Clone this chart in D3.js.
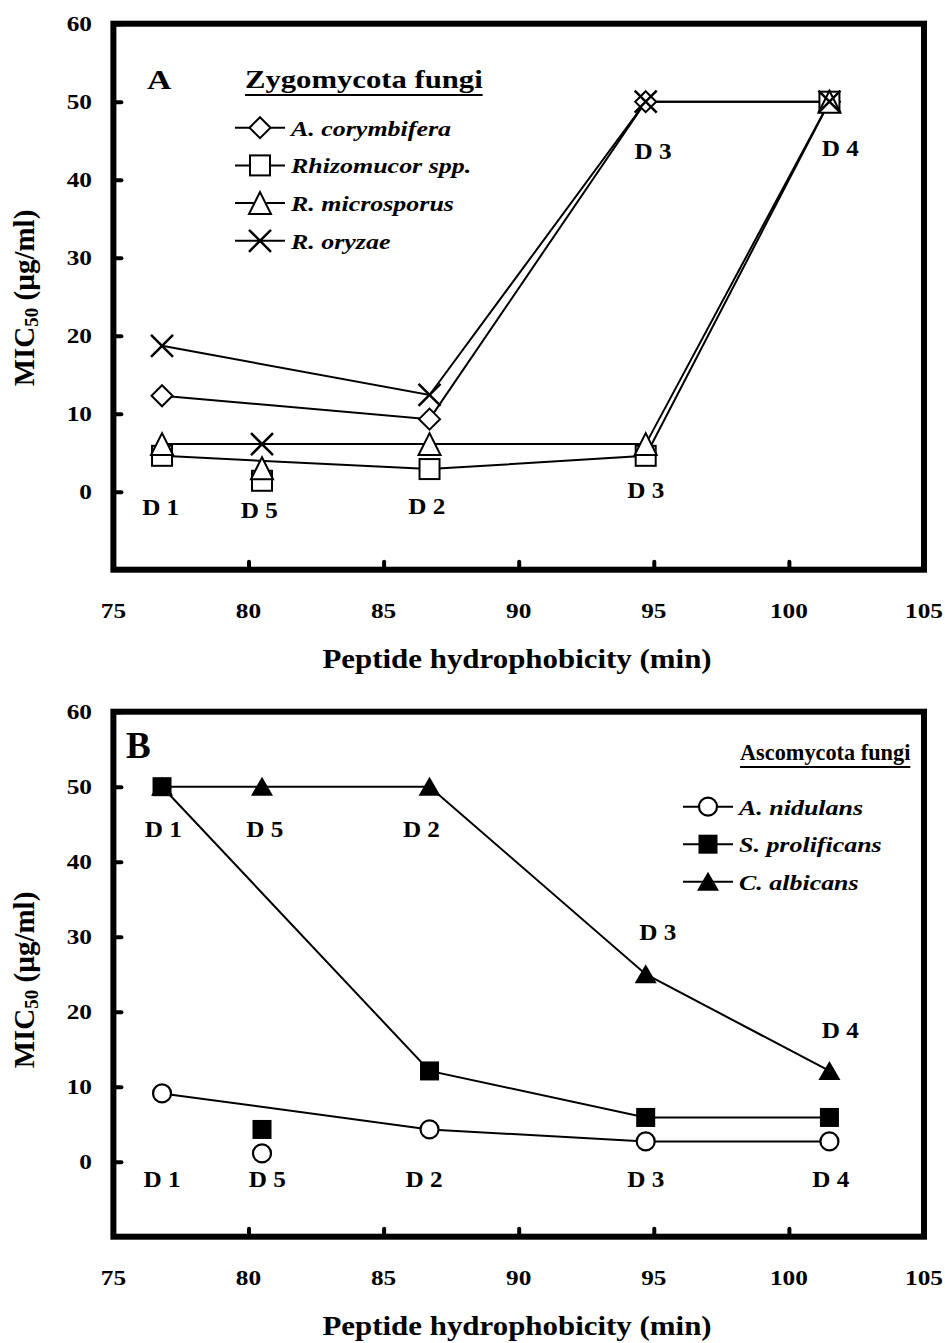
<!DOCTYPE html>
<html><head><meta charset="utf-8">
<script src="https://cdn.jsdelivr.net/npm/d3@7"></script>
<style>
body{margin:0;background:#fff}
text{font-family:"Liberation Serif","Times New Roman",serif;font-weight:bold;fill:#000}
</style>
</head><body>
<svg id="chart" width="945" height="1343"></svg>
<script>
// ---------- data ----------
const peptides = ["D 1", "D 5", "D 2", "D 3", "D 4"];
const hydrophobicity = [76.8, 80.5, 86.7, 94.7, 101.5];
const xTicks = [75, 80, 85, 90, 95, 100, 105];
const yTicks = [0, 10, 20, 30, 40, 50, 60];
const xTitle = "Peptide hydrophobicity (min)";

// Panel A – Zygomycota
const zygoTitle = "Zygomycota fungi";
const zygoNames = ["A. corymbifera", "Rhizomucor spp.", "R. microsporus", "R. oryzae"];
const aCorymbifera = [12.3, null, 9.3, 50, 50];
const rhizomucor   = [4.6, 1.4, 2.9, 4.6, 50];
const rMicrosporus = [6.1, 3.0, 6.1, 6.1, 50];
const rOryzae      = [18.7, 6.1, 12.4, 50, 50];
const annotA = [["D 1", 76.75, -3.0], ["D 5", 80.4, -3.4], ["D 2", 86.6, -2.9],
                ["D 3", 94.7, -0.8], ["D 3", 94.97, 42.6], ["D 4", 101.9, 43.0]];

// Panel B – Ascomycota
const ascoTitle = "Ascomycota fungi";
const ascoNames = ["A. nidulans", "S. prolificans", "C. albicans"];
const aNidulans    = [9.1, 1.1, 4.3, 2.7, 2.7];
const sProlificans = [50, 4.3, 12.1, 5.9, 5.9];
const cAlbicans    = [50, 50, 50, 25, 12.1];
const annotB = [["D 1", 76.85, 43.3], ["D 5", 80.6, 43.3], ["D 2", 86.4, 43.3],
                ["D 3", 95.15, 29.6], ["D 4", 101.9, 16.5],
                ["D 1", 76.8, -3.4], ["D 5", 80.7, -3.4], ["D 2", 86.5, -3.4],
                ["D 3", 94.7, -3.4], ["D 4", 101.55, -3.4]];
const unconnected = "D 5";

// ---------- drawing ----------
const svg = d3.select("#chart");
svg.append("rect").attr("width", 945).attr("height", 1343).attr("fill", "#fff");

function txt(g, x, y, s, o = {}) {
  const t = g.append("text")
    .attr("transform", `translate(${x},${y}) scale(${o.sx || 1},1)`)
    .attr("text-anchor", o.anchor || "start")
    .style("font-size", (o.size || 22) + "px")
    .text(s);
  if (o.italic) t.style("font-style", "italic");
  return t;
}

function marker(g, type, cx, cy) {
  const m = g.append("g").attr("transform", `translate(${cx},${cy})`);
  if (type === "diamond") {
    m.append("path").attr("d", "M0,-10.5L10.5,0L0,10.5L-10.5,0Z")
      .attr("fill", "#fff").attr("stroke", "#000").attr("stroke-width", 2);
  } else if (type === "square") {
    m.append("rect").attr("x", -10).attr("y", -10).attr("width", 20).attr("height", 20)
      .attr("fill", "#fff").attr("stroke", "#000").attr("stroke-width", 2);
  } else if (type === "triangle") {
    m.append("path").attr("d", "M0,-11L11,11L-11,11Z")
      .attr("fill", "#fff").attr("stroke", "#000").attr("stroke-width", 2);
  } else if (type === "cross") {
    m.append("path").attr("d", "M-11,-11L11,11M-11,11L11,-11")
      .attr("fill", "none").attr("stroke", "#000").attr("stroke-width", 2.5);
  } else if (type === "circle") {
    m.append("circle").attr("r", 9)
      .attr("fill", "#fff").attr("stroke", "#000").attr("stroke-width", 2.2);
  } else if (type === "fsquare") {
    m.append("rect").attr("x", -9.5).attr("y", -9.5).attr("width", 19).attr("height", 19)
      .attr("fill", "#000");
  } else if (type === "ftriangle") {
    m.append("path").attr("d", "M0,-10L11,9L-11,9Z").attr("fill", "#000");
  }
}

function panel(cfg) {
  const g = svg.append("g");
  const x = d3.scaleLinear().domain([75, 105]).range([113.4, 924]);
  const y = d3.scaleLinear().domain([-10, 60]).range([cfg.yBottom, cfg.yTop]);

  // y axis ticks (inward)
  const ya = g.append("g").attr("transform", `translate(${x(75)},0)`)
    .call(d3.axisLeft(y).tickValues(yTicks).tickSize(-8).tickFormat(""));
  ya.select(".domain").remove();
  ya.selectAll(".tick line").attr("stroke", "#000").attr("stroke-width", 4).attr("stroke-linecap", "round");
  // x axis ticks (inward)
  const xa = g.append("g").attr("transform", `translate(0,${y(-10)})`)
    .call(d3.axisBottom(x).tickValues(xTicks.slice(1, -1)).tickSize(-8).tickFormat(""));
  xa.select(".domain").remove();
  xa.selectAll(".tick line").attr("stroke", "#000").attr("stroke-width", 4).attr("stroke-linecap", "round");

  // frame
  g.append("rect").attr("x", x(75)).attr("y", y(60))
    .attr("width", x(105) - x(75)).attr("height", y(-10) - y(60))
    .attr("fill", "none").attr("stroke", "#000").attr("stroke-width", 6);

  // tick labels
  yTicks.forEach(v => txt(g, 92, y(v) + 7.5, String(v), {size: 22, anchor: "end", sx: 1.15}));
  xTicks.forEach(v => txt(g, x(v), y(-10) + 48.5, String(v), {size: 22, anchor: "middle", sx: 1.15}));

  // axis titles
  txt(g, 517, y(-10) + 98, xTitle, {size: 27, anchor: "middle", sx: 1.145});
  const yl = g.append("text")
    .attr("transform", `translate(34,${cfg.yLabelCenter}) rotate(-90)`)
    .attr("text-anchor", "middle").style("font-size", "29px");
  yl.append("tspan").text("MIC");
  yl.append("tspan").text("50").style("font-size", "19px").attr("dy", 4);
  yl.append("tspan").text(" (µg/ml)").attr("dy", -4);

  // panel letter
  txt(g, cfg.letterX, cfg.letterY, cfg.letter, {size: cfg.letterSize, sx: cfg.letterSx});

  // series
  const line = d3.line().x(d => x(d[0])).y(d => y(d[1]));
  cfg.series.forEach(s => {
    const pts = hydrophobicity.map((h, i) => [h, s.values[i], peptides[i]])
      .filter(d => d[1] != null);
    g.append("path").datum(pts.filter(d => d[2] !== unconnected))
      .attr("d", line).attr("fill", "none").attr("stroke", "#000").attr("stroke-width", 2);
  });
  cfg.series.forEach(s => {
    hydrophobicity.forEach((h, i) => {
      if (s.values[i] != null) marker(g, s.type, x(h), y(s.values[i]));
    });
  });

  // annotations
  cfg.annot.forEach(a => txt(g, x(a[1]), y(a[2]), a[0], {size: 24, anchor: "middle", sx: 1.05}));

  // legend
  const lt = txt(g, cfg.legX0, cfg.legTitleY, cfg.title, {size: cfg.titleSize, sx: cfg.titleSx});
  const w = lt.node().getComputedTextLength() * cfg.titleSx;
  g.append("line").attr("x1", cfg.legX0).attr("x2", cfg.legX0 + w)
    .attr("y1", cfg.legTitleY + 7).attr("y2", cfg.legTitleY + 7)
    .attr("stroke", "#000").attr("stroke-width", 2);
  cfg.series.forEach((s, i) => {
    const ry = cfg.legRowY + i * cfg.legRowGap;
    g.append("line").attr("x1", cfg.legLineX).attr("x2", cfg.legLineX + 50)
      .attr("y1", ry).attr("y2", ry).attr("stroke", "#000").attr("stroke-width", 2);
    marker(g, s.type, cfg.legLineX + 25, ry);
    txt(g, cfg.legLineX + 56, ry + 8, s.name, {size: 22, italic: true, sx: 1.18});
  });
}

panel({
  yTop: 23.7, yBottom: 569.7, yLabelCenter: 298,
  letter: "A", letterX: 147, letterY: 89, letterSize: 27, letterSx: 1.25,
  title: zygoTitle, titleSize: 26, titleSx: 1.18, legX0: 245, legTitleY: 88,
  legLineX: 235, legRowY: 127.7, legRowGap: 37.7,
  annot: annotA,
  series: [
    {name: zygoNames[0], values: aCorymbifera, type: "diamond"},
    {name: zygoNames[1], values: rhizomucor, type: "square"},
    {name: zygoNames[2], values: rMicrosporus, type: "triangle"},
    {name: zygoNames[3], values: rOryzae, type: "cross"}
  ]
});

panel({
  yTop: 711.7, yBottom: 1236.7, yLabelCenter: 980,
  letter: "B", letterX: 126, letterY: 758, letterSize: 37, letterSx: 1,
  title: ascoTitle, titleSize: 24, titleSx: 0.93, legX0: 740, legTitleY: 760,
  legLineX: 683, legRowY: 806.7, legRowGap: 37.5,
  annot: annotB,
  series: [
    {name: ascoNames[0], values: aNidulans, type: "circle"},
    {name: ascoNames[1], values: sProlificans, type: "fsquare"},
    {name: ascoNames[2], values: cAlbicans, type: "ftriangle"}
  ]
});
</script>
</body></html>
